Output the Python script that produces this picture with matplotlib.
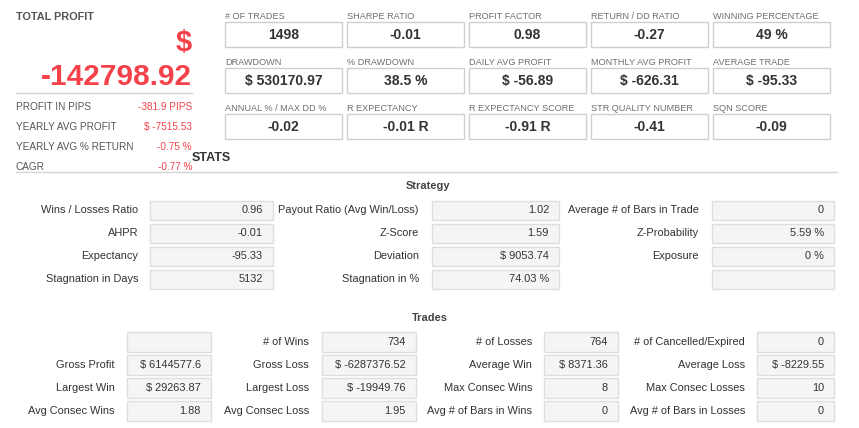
import matplotlib
matplotlib.use("Agg")
from matplotlib import pyplot as plt
from matplotlib.patches import Rectangle

plt.rcParams['font.family'] = ['Liberation Sans', 'DejaVu Sans']

# ---- data ----
total_profit = "-142798.92"
summary_labels = ["PROFIT IN PIPS", "YEARLY AVG PROFIT", "YEARLY AVG % RETURN", "CAGR"]
summary_values = ["-381.9 PIPS", "$ -7515.53", "-0.75 %", "-0.77 %"]

top_labels = ["# OF TRADES", "SHARPE RATIO", "PROFIT FACTOR", "RETURN / DD RATIO", "WINNING PERCENTAGE",
              "DRAWDOWN", "% DRAWDOWN", "DAILY AVG PROFIT", "MONTHLY AVG PROFIT", "AVERAGE TRADE",
              "ANNUAL % / MAX DD %", "R EXPECTANCY", "R EXPECTANCY SCORE", "STR QUALITY NUMBER", "SQN SCORE"]
top_values = ["1498", "-0.01", "0.98", "-0.27", "49 %",
              "$ 530170.97", "38.5 %", "$ -56.89", "$ -626.31", "$ -95.33",
              "-0.02", "-0.01 R", "-0.91 R", "-0.41", "-0.09"]

strategy_labels = ["Wins / Losses Ratio", "Payout Ratio (Avg Win/Loss)", "Average # of Bars in Trade",
                   "AHPR", "Z-Score", "Z-Probability",
                   "Expectancy", "Deviation", "Exposure",
                   "Stagnation in Days", "Stagnation in %", ""]
strategy_values = ["0.96", "1.02", "0",
                   "-0.01", "1.59", "5.59 %",
                   "-95.33", "$ 9053.74", "0 %",
                   "5132", "74.03 %", ""]

trades_labels = ["", "# of Wins", "# of Losses", "# of Cancelled/Expired",
                 "Gross Profit", "Gross Loss", "Average Win", "Average Loss",
                 "Largest Win", "Largest Loss", "Max Consec Wins", "Max Consec Losses",
                 "Avg Consec Wins", "Avg Consec Loss", "Avg # of Bars in Wins", "Avg # of Bars in Losses"]
trades_values = ["", "734", "764", "0",
                 "$ 6144577.6", "$ -6287376.52", "$ 8371.36", "$ -8229.55",
                 "$ 29263.87", "$ -19949.76", "8", "10",
                 "1.88", "1.95", "0", "0"]

RED = "#f5424a"
DARK = "#333333"
GREY = "#6f6f6f"

fig = plt.figure(figsize=(8.59, 4.28), dpi=100)
ax = fig.add_axes([0, 0, 1, 1])
ax.set_xlim(0, 859)
ax.set_ylim(428, 0)
ax.axis("off")

# ---- total profit block ----
ax.text(16, 17, "TOTAL PROFIT", fontsize=7.8, fontweight="bold", color="#555555", va="center")
ax.text(192, 43, "$", fontsize=21, fontweight="bold", color=RED, ha="right", va="center")
ax.text(192, 77, total_profit, fontsize=21.5, fontweight="bold", color=RED, ha="right", va="center")
ax.plot([16, 192], [93, 93], color="#d5d5d5", lw=1)
for i, (lab, val) in enumerate(zip(summary_labels, summary_values)):
    y = 107 + 20 * i
    ax.text(16, y, lab, fontsize=7.2, color="#555555", va="center")
    ax.text(192, y, val, fontsize=7.2, color=RED, ha="right", va="center")
ax.text(192, 158, "STATS", fontsize=9, fontweight="bold", color=DARK, va="center")
ax.plot([16, 837], [172, 172], color="#d5d5d5", lw=1)

# ---- top metric boxes ----
for k, (lab, val) in enumerate(zip(top_labels, top_values)):
    r, c = divmod(k, 5)
    x0 = 225 + 122 * c
    ax.text(x0, 16 + 46 * r, lab, fontsize=6.6, color=GREY, va="center")
    ax.add_patch(Rectangle((x0, 22 + 46 * r), 117, 25, fill=False, edgecolor="#cfcfcf", lw=1))
    ax.text(x0 + 58.5, 35 + 46 * r, val, fontsize=10, fontweight="bold", color=DARK,
            ha="center", va="center")


def table(labels, values, lab_right, box_left, box_right, y0, h, step):
    n = len(lab_right)
    for k, (lab, val) in enumerate(zip(labels, values)):
        r, c = divmod(k, n)
        y = y0 + step * r
        ax.text(lab_right[c], y, lab, fontsize=7.9, color=DARK, ha="right", va="center")
        ax.add_patch(Rectangle((box_left[c], y - h / 2), box_right[c] - box_left[c], h,
                               facecolor="#f5f5f5", edgecolor="#dedede", lw=1))
        ax.text(box_right[c] - 10, y, val, fontsize=7.9, color=DARK, ha="right", va="center")


# ---- strategy ----
ax.text(428, 186, "Strategy", fontsize=7.9, fontweight="bold", color="#444444", ha="center", va="center")
table(strategy_labels, strategy_values,
      [138, 419, 699], [150, 432, 712], [273, 559, 834], 210, 19, 23)

# ---- trades ----
ax.text(430, 318, "Trades", fontsize=7.9, fontweight="bold", color="#444444", ha="center", va="center")
table(trades_labels, trades_values,
      [115, 309, 532, 745], [127, 322, 544, 757], [211, 416, 618, 834], 342, 20, 23)

plt.savefig("out.png", dpi=100)
plt.close()
